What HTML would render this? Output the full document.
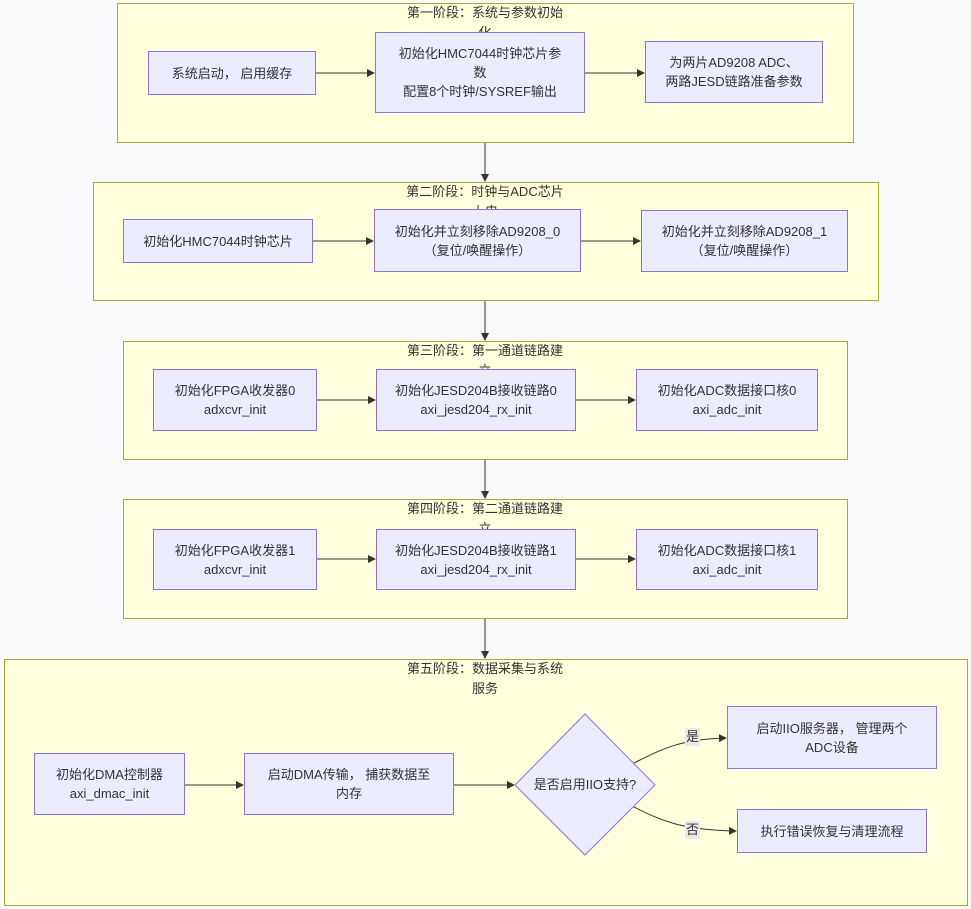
<!DOCTYPE html>
<html><head><meta charset="utf-8"><style>
body{margin:0;width:971px;height:909px;background:#f8f9fb;position:relative;overflow:hidden;font-family:"Liberation Sans","Noto Sans CJK SC",sans-serif;font-size:13px;color:#333}
.g{position:absolute;background:#ffffde;border:1px solid #aaaa33;box-sizing:border-box}
.t{position:absolute;width:168px;text-align:center;line-height:20px;font-size:13px;top:0}
.n{position:absolute;background:#ececff;border:1px solid #9370db;box-sizing:border-box;display:flex;align-items:center;justify-content:center;text-align:center;line-height:19px;font-size:13px}
svg{position:absolute;left:0;top:0}
</style></head><body>
<div class="g" style="left:117px;top:3px;width:737px;height:140px"></div>
<div class="g" style="left:93px;top:182px;width:786px;height:119px"></div>
<div class="g" style="left:123px;top:341px;width:725px;height:119px"></div>
<div class="g" style="left:123px;top:499px;width:725px;height:120px"></div>
<div class="g" style="left:4px;top:659px;width:964px;height:247px"></div>
<div class="t" style="left:401px;top:3px">第一阶段：系统与参数初始化</div>
<div class="t" style="left:401px;top:182px">第二阶段：时钟与ADC芯片上电</div>
<div class="t" style="left:401px;top:341px">第三阶段：第一通道链路建立</div>
<div class="t" style="left:401px;top:499px">第四阶段：第二通道链路建立</div>
<div class="t" style="left:401px;top:659px">第五阶段：数据采集与系统服务</div>
<svg width="971" height="909"><defs><marker id="a" markerWidth="8" markerHeight="8" refX="7" refY="4" orient="auto"><path d="M0,0L8,4L0,8z" fill="#333"/></marker></defs>
<g stroke="#333" stroke-width="1" fill="none" marker-end="url(#a)">
<path d="M316,73H374"/><path d="M585,73H644"/>
<path d="M313,241H373"/><path d="M581,241H640"/>
<path d="M317,400H375"/><path d="M576,400H635"/>
<path d="M317,559H375"/><path d="M576,559H635"/>
<path d="M185,785H243"/><path d="M454,785H514"/>
<path d="M485,143V181"/><path d="M485,301V340"/><path d="M485,460V498"/><path d="M485,619V658"/>
<path d="M634,763C660,750 680,739 726,738"/><path d="M634,807C660,820 680,830 736,831"/>
</g></svg>
<div class="n" style="left:148px;top:51px;width:168px;height:44px">系统启动， 启用缓存</div>
<div class="n" style="left:375px;top:32px;width:210px;height:81px">初始化HMC7044时钟芯片参<br>数<br>配置8个时钟/SYSREF输出</div>
<div class="n" style="left:645px;top:41px;width:178px;height:62px">为两片AD9208 ADC、<br>两路JESD链路准备参数</div>
<div class="n" style="left:123px;top:219px;width:190px;height:44px">初始化HMC7044时钟芯片</div>
<div class="n" style="left:374px;top:209px;width:207px;height:63px">初始化并立刻移除AD9208_0<br>（复位/唤醒操作）</div>
<div class="n" style="left:641px;top:210px;width:207px;height:62px">初始化并立刻移除AD9208_1<br>（复位/唤醒操作）</div>
<div class="n" style="left:153px;top:369px;width:164px;height:62px">初始化FPGA收发器0<br>adxcvr_init</div>
<div class="n" style="left:376px;top:369px;width:200px;height:62px">初始化JESD204B接收链路0<br>axi_jesd204_rx_init</div>
<div class="n" style="left:636px;top:369px;width:182px;height:62px">初始化ADC数据接口核0<br>axi_adc_init</div>
<div class="n" style="left:153px;top:529px;width:164px;height:61px">初始化FPGA收发器1<br>adxcvr_init</div>
<div class="n" style="left:376px;top:529px;width:200px;height:61px">初始化JESD204B接收链路1<br>axi_jesd204_rx_init</div>
<div class="n" style="left:636px;top:529px;width:182px;height:61px">初始化ADC数据接口核1<br>axi_adc_init</div>
<div class="n" style="left:34px;top:753px;width:151px;height:62px">初始化DMA控制器<br>axi_dmac_init</div>
<div class="n" style="left:244px;top:753px;width:210px;height:62px">启动DMA传输， 捕获数据至<br>内存</div>
<svg width="971" height="909"><path d="M585,714L655,785L585,855L515,785z" fill="#ececff" stroke="#9370db"/></svg>
<div class="t" style="left:501px;top:775px">是否启用IIO支持?</div>
<div class="n" style="left:727px;top:706px;width:210px;height:63px">启动IIO服务器， 管理两个<br>ADC设备</div>
<div class="n" style="left:737px;top:809px;width:190px;height:44px">执行错误恢复与清理流程</div>
<div style="position:absolute;left:685px;top:728px;background:#e8e8e8;padding:0 1px;line-height:18px">是</div>
<div style="position:absolute;left:685px;top:821px;background:#e8e8e8;padding:0 1px;line-height:18px">否</div>
</body></html>
